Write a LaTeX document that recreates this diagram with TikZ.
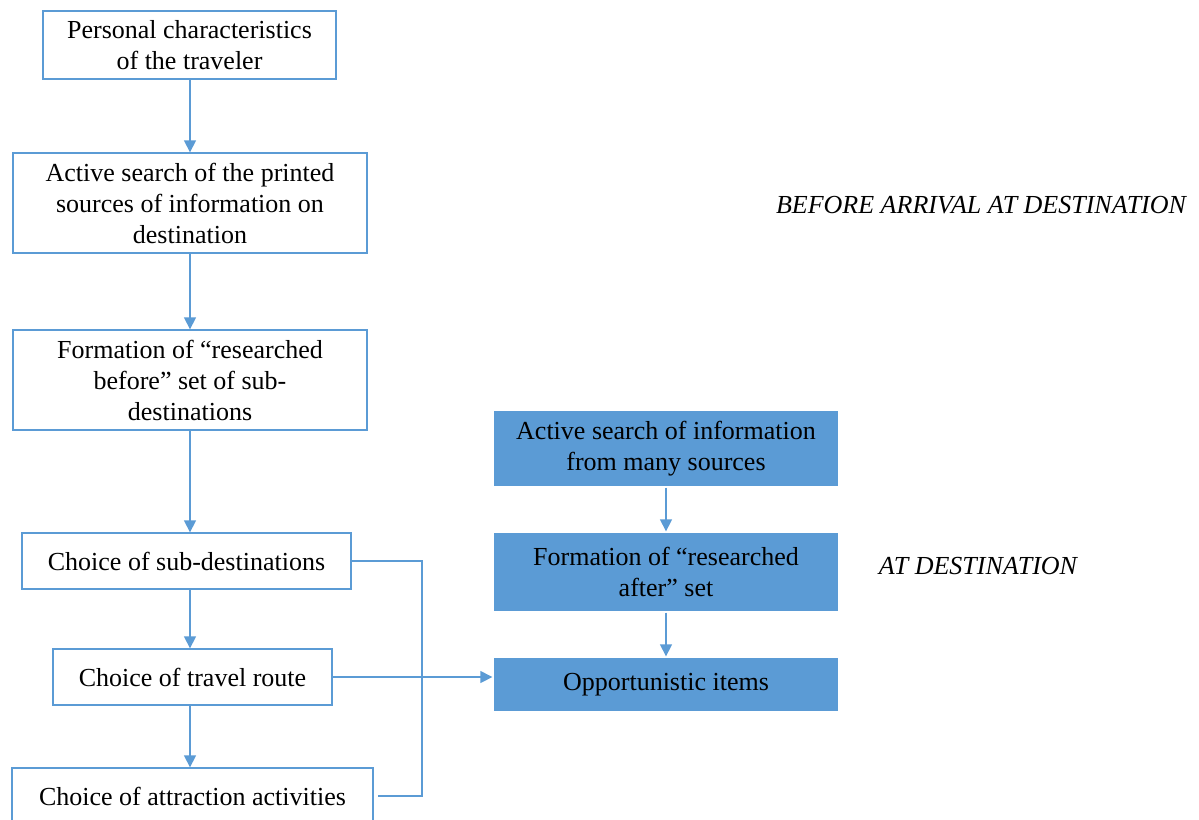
\documentclass[tikz,border=0pt]{standalone}
\usepackage{fontspec}
\setmainfont{Liberation Serif}
\usetikzlibrary{arrows.meta}
\definecolor{msblue}{HTML}{5B9BD5}
\def\u{0.75pt}
\begin{document}
\begin{tikzpicture}[x=0.75pt,y=-0.75pt,
  font=\fontsize{19.5}{23.25}\selectfont,
  wbox/.style={draw=msblue,line width=1pt,fill=white,inner sep=0pt,align=center},
  bbox/.style={draw=white,line width=1pt,fill=msblue,inner sep=0pt,align=center},
  link/.style={draw=msblue,line width=1pt},
  arr/.style={link,-{Triangle[width=9pt,length=9pt]}},
  phase/.style={font=\fontsize{19.5}{23.25}\selectfont\itshape}]
\clip (0,0) rectangle (1199,819);
\fill[white] (0,0) rectangle (1199,819);

% planning steps before arrival
\node[wbox,minimum width=293*\u,minimum height=68*\u] (p1) at (189.5,45)
  {Personal characteristics\\of the traveler};
\node[wbox,minimum width=354*\u,minimum height=100*\u] (p2) at (190,203)
  {Active search of the printed\\sources of information\ on\\destination};
\node[wbox,minimum width=354*\u,minimum height=100*\u] (p3) at (190,380)
  {Formation of “researched\\before” set of sub-\\destinations};
\node[wbox,minimum width=329*\u,minimum height=56*\u] (p4) at (186.5,561)
  {Choice of sub-destinations};
\node[wbox,minimum width=279*\u,minimum height=56*\u] (p5) at (192.5,677)
  {Choice of travel route};
\node[wbox,minimum width=361*\u,minimum height=56*\u] (p6) at (192.5,796)
  {Choice of attraction activities};

% steps at the destination
\node[bbox,minimum width=346*\u,minimum height=77*\u] (b1) at (666,448.5)
  {Active search of information\\from many sources};
\node[bbox,minimum width=346*\u,minimum height=80*\u] (b2) at (666,572)
  {Formation of “researched\\after” set};
\node[bbox,minimum width=346*\u,minimum height=55*\u] (b3) at (666,684.5)
  {Opportunistic items};

% phase labels
\node[phase] (before) at (981,205) {BEFORE ARRIVAL AT DESTINATION};
\node[phase] (at) at (978,566) {AT DESTINATION};

% vertical flow
\coordinate (spine) at (190,0);
\draw[arr] (spine |- p1.south) -- (spine |- p2.north);
\draw[arr] (spine |- p2.south) -- (spine |- p3.north);
\draw[arr] (spine |- p3.south) -- (spine |- p4.north);
\draw[arr] (spine |- p4.south) -- (spine |- p5.north);
\draw[arr] (spine |- p5.south) -- (spine |- p6.north);
\draw[arr] (b1.south) -- (b2.north);
\draw[arr] (b2.south) -- (b3.north);

% bracket joining the choices and link to opportunistic items
\coordinate (bus) at (422,0);
\draw[link] (p4.east) -| (bus |- p6.east) -- ([xshift=3]p6.east);
\draw[arr] (p5.east) -- (p5.east -| b3.west);
\end{tikzpicture}
\end{document}
